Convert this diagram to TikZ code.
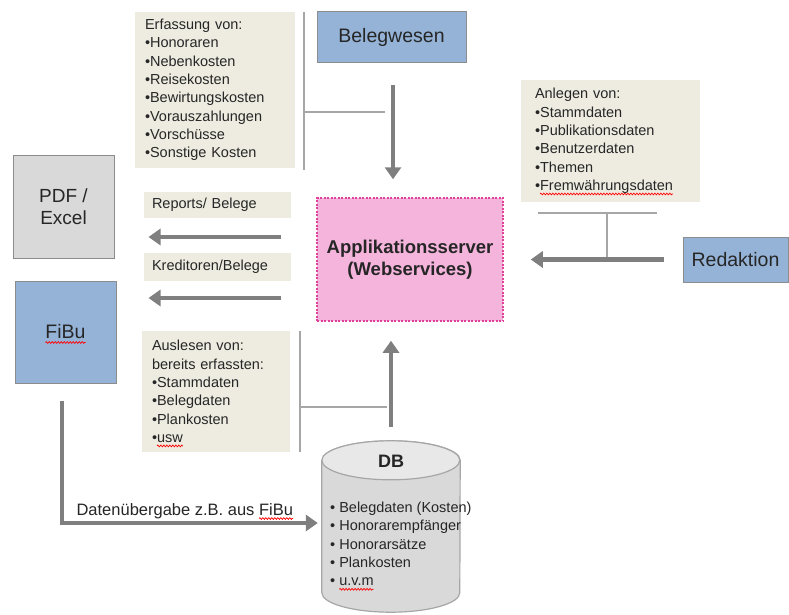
\documentclass[tikz,border=0pt]{standalone}
\usepackage{fontspec}
\setmainfont{Liberation Sans}
\usetikzlibrary{arrows.meta,calc,decorations.pathmorphing}

\definecolor{notefill}{HTML}{EEECE1}
\definecolor{boxblue}{HTML}{95B3D7}
\definecolor{boxgray}{HTML}{D9D9D9}
\definecolor{boxrim}{HTML}{8C8C8C}
\definecolor{serverpink}{HTML}{F4B4DC}
\definecolor{serverrim}{HTML}{E0409A}
\definecolor{arrowgray}{HTML}{7F7F7F}
\definecolor{linegray}{HTML}{A6A6A6}
\definecolor{textgray}{HTML}{262626}

\newcommand\notefont{\fontsize{14.5}{18.3}\selectfont}
\newsavebox\spellbox
\newlength\spellwidth
\newcommand\spellmark[1]{\sbox\spellbox{#1}\setlength\spellwidth{\wd\spellbox}%
	\rlap{\tikz[overlay,baseline=0pt,x=1pt,y=1pt]\draw[-,red,solid,line width=0.7pt,decorate,
		decoration={zigzag,segment length=3pt,amplitude=0.9pt}] (0,-3.5) -- (\spellwidth,-3.5);}\usebox\spellbox}

\begin{document}
\begin{tikzpicture}[x=1pt,y=-1pt,text=textgray]
	\tikzstyle{note} = [fill=notefill, inner xsep=10pt, align=left, font=\notefont]
	\tikzstyle{blue box} = [draw=boxrim, fill=boxblue, line width=1pt, font=\fontsize{19.5}{23}\selectfont]
	\tikzstyle{big arrow} = [draw=arrowgray, line width=4.5pt, -{Triangle[width=16pt,length=12pt]}]
	\tikzstyle{thin line} = [draw=linegray, line width=1.8pt]
	\useasboundingbox (0,0) rectangle (789,615);

	% notes
	\node[note, text width=140pt, minimum height=156pt] (erf) at (215,90)
		{Erfassung von:\\\textbullet Honoraren\\\textbullet Nebenkosten\\\textbullet Reisekosten\\\textbullet Bewirtungskosten\\\textbullet Vorauszahlungen\\\textbullet Vorschüsse\\\textbullet Sonstige Kosten};
	\node[note, inner xsep=14pt, text width=151pt, minimum height=122pt] (anl) at (610.5,141)
		{Anlegen von:\\\textbullet Stammdaten\\\textbullet Publikationsdaten\\\textbullet Benutzerdaten\\\textbullet Themen\\\textbullet \spellmark{Fremwährungsdaten}};
	\node[note, inner xsep=8pt, text width=131pt, minimum height=26pt] (rep) at (217.5,205) {Reports/ Belege};
	\node[note, inner xsep=8pt, text width=131pt, minimum height=28pt] (kred) at (217.5,267) {Kreditoren/Belege};
	\node[note, text width=128pt, minimum height=121pt] (aus) at (216,391.5)
		{Auslesen von:\\bereits erfassten:\\\textbullet Stammdaten\\\textbullet Belegdaten\\\textbullet Plankosten\\\textbullet \spellmark{usw}};

	% boxes
	\node[blue box, minimum width=149pt, minimum height=51pt] (beleg) at (391.5,37.5) {Belegwesen};
	\node[blue box, minimum width=105pt, minimum height=45pt] (red) at (735.5,259.5) {Redaktion};
	\node[blue box, minimum width=101pt, minimum height=102pt] (fibu) at (65.5,332) {\spellmark{FiBu}};
	\node[draw=boxrim, fill=boxgray, line width=1pt, minimum width=101pt, minimum height=103pt, align=center,
		font=\fontsize{19}{22}\selectfont] (pdf) at (63.5,206.5) {PDF /\\Excel};
	\node[draw=serverrim, fill=serverpink, line width=1.5pt, dash pattern=on 2pt off 1.5pt,
		minimum width=186pt, minimum height=123pt, align=center, font=\fontsize{18.5}{22}\selectfont\bfseries]
		(apps) at (410,259.5) {Applikationsserver\\(Webservices)};

	% database
	\node[minimum width=138pt, minimum height=171pt, inner sep=0pt] (db) at (391,526.5) {};
	\draw[draw=linegray, line width=1.2pt, fill=boxgray] ($(db.north west)+(0,19.5)$) -- ($(db.south west)+(0,-19.5)$)
		arc[start angle=180, end angle=360, x radius=69pt, y radius=19.5pt] -- ($(db.north east)+(0,19.5)$)
		arc[start angle=0, end angle=180, x radius=69pt, y radius=19.5pt];
	\draw[draw=linegray, line width=1.2pt, fill=boxgray!60] ($(db.north west)+(0,19.5)$)
		arc[start angle=180, end angle=360, x radius=69pt, y radius=19.5pt]
		arc[start angle=0, end angle=180, x radius=69pt, y radius=19.5pt];
	\node[font=\fontsize{18}{22}\selectfont\bfseries] (dbname) at (391,461) {DB};
	\node[anchor=west, align=left, inner sep=0pt, font=\notefont] (dblist) at (330,544)
		{\textbullet\ Belegdaten (Kosten)\\\textbullet\ Honorarempfänger\\\textbullet\ Honorarsätze\\\textbullet\ Plankosten\\\textbullet\ \spellmark{u.v.m}};

	% connectors
	\draw[thin line] ($(erf.north east)+(9,0)$) -- ($(erf.south east)+(9,2)$);
	\draw[thin line] ($(erf.east)+(9,22)$) -- ++(81,0);
	\draw[thin line] ($(aus.north east)+(10,0)$) -- ($(aus.south east)+(10,0)$);
	\draw[thin line] ($(aus.east)+(10,15.5)$) -- ++(87,0);
	\draw[thin line] ($(anl.south)+(-72.5,11)$) -- ++(119,0);
	\draw[thin line] ($(anl.south)+(-3.5,11)$) -- ++(0,46);

	\draw[big arrow] ($(beleg.south)+(1.5,22)$) -- ($(beleg.south |- apps.north)+(1.5,-18)$);
	\draw[big arrow] ($(dbname |- db.north)+(0,-14)$) -- ($(dbname |- apps.south)+(0,19)$);
	\draw[big arrow] ($(red.west)+(-19,0)$) -- ($(apps.east)+(27,0)$);
	\draw[big arrow] ($(apps.west)+(-35,-22.5)$) -- ($(apps.west -| pdf.east)+(34,-22.5)$);
	\draw[big arrow] ($(apps.west)+(-35,38.5)$) -- ($(apps.west -| fibu.east)+(32,38.5)$);
	\draw[big arrow] ($(fibu.south)+(-3.5,17)$) |- node[pos=0.74, above=1pt, font=\fontsize{16.5}{20}\selectfont]
		{Datenübergabe z.B. aus \spellmark{FiBu}} ($(db.west)+(-4,-3.5)$);
\end{tikzpicture}
\end{document}
